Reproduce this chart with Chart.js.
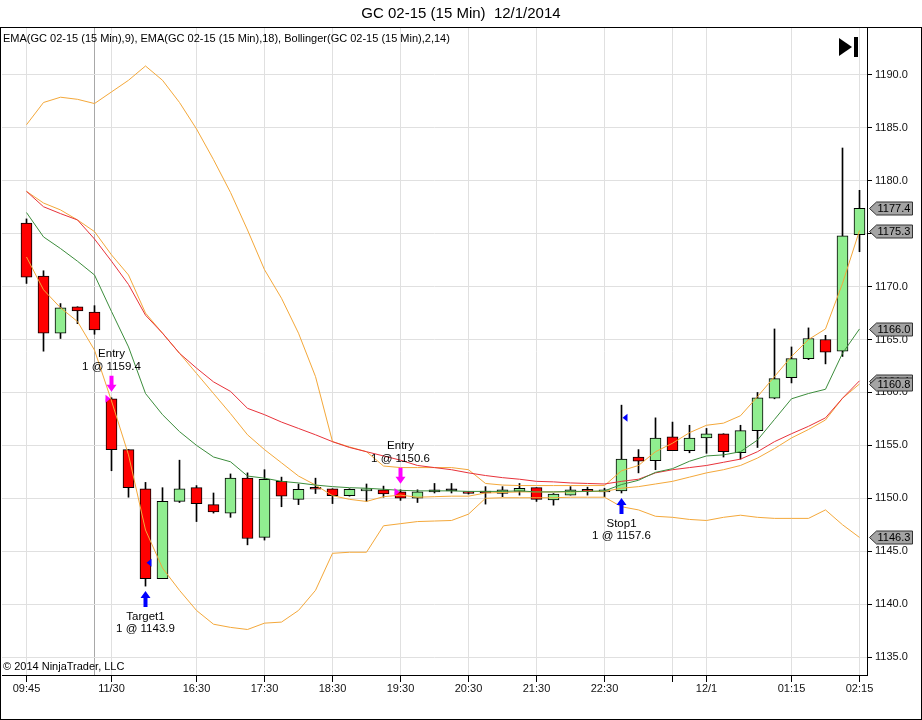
<!DOCTYPE html>
<html>
<head>
<meta charset="utf-8">
<title>GC 02-15 (15 Min) 12/1/2014</title>
<script src="https://cdn.jsdelivr.net/npm/chart.js@4.4.0/dist/chart.umd.min.js"></script>
<style>
html, body { margin: 0; padding: 0; background: #fff; overflow: hidden; }
canvas { display: block; }
</style>
</head>
<body>
<canvas id="gc-chart" width="922" height="720"></canvas>
<script>
// 15 min bars, Pacific time: Fri 11/28 short session, then Sun 11/30 evening into 12/1
const barTimes = [
    '09:45', '10:00', '10:15', '10:30', '10:45', '15:15', '15:30', '15:45', '16:00', '16:15',
    '16:30', '16:45', '17:00', '17:15', '17:30', '17:45', '18:00', '18:15', '18:30', '18:45',
    '19:00', '19:15', '19:30', '19:45', '20:00', '20:15', '20:30', '20:45', '21:00', '21:15',
    '21:30', '21:45', '22:00', '22:15', '22:30', '22:45', '23:00', '23:15', '23:30', '23:45',
    '00:00', '00:15', '00:30', '00:45', '01:00', '01:15', '01:30', '01:45', '02:00', '02:15'
]
const tickBars = [0, 4, 5, 10, 14, 18, 22, 26, 30, 34, 38, 40, 45, 49]
const tickText = ['09:45', '', '11/30', '16:30', '17:30', '18:30', '19:30', '20:30', '21:30', '22:30', '', '12/1', '01:15', '02:15']
const sessionBreakBar = 4
const priceTicks = [1135, 1140, 1145, 1150, 1155, 1160, 1165, 1170, 1175, 1180, 1185, 1190]

const opens = [
    1176.0, 1171.0, 1165.6, 1168.1, 1167.6, 1159.4, 1154.6, 1150.9, 1142.4, 1149.7,
    1151.0, 1149.4, 1148.6, 1151.9, 1146.3, 1151.6, 1149.9, 1151.0, 1150.9, 1150.25,
    1150.7, 1150.8, 1150.6, 1150.0, 1150.6, 1150.7, 1150.6, 1150.55, 1150.45, 1150.65,
    1151.0, 1149.85, 1150.3, 1150.8, 1150.6, 1150.7, 1153.9, 1153.55, 1155.8, 1154.5,
    1155.7, 1156.1, 1154.3, 1156.4, 1159.45, 1161.4, 1163.2, 1165.0, 1163.9, 1174.9
]
const highs = [
    1176.4, 1171.5, 1168.4, 1168.1, 1168.2, 1159.5, 1154.6, 1151.5, 1151.0, 1153.6,
    1151.2, 1150.5, 1152.3, 1152.4, 1152.7, 1152.0, 1151.35, 1151.9, 1150.9, 1150.9,
    1151.35, 1151.15, 1150.8, 1150.8, 1151.4, 1151.4, 1150.6, 1151.1, 1151.1, 1151.4,
    1151.0, 1150.45, 1151.1, 1151.05, 1150.95, 1158.8, 1154.6, 1157.6, 1157.2, 1156.9,
    1156.6, 1156.1, 1156.9, 1160.0, 1166.0, 1164.3, 1166.1, 1165.4, 1183.1, 1179.1
]
const lows = [
    1170.3, 1163.9, 1165.1, 1166.5, 1165.5, 1152.6, 1150.1, 1141.7, 1142.4, 1149.6,
    1147.8, 1148.6, 1148.2, 1145.6, 1146.05, 1149.2, 1149.4, 1150.45, 1149.5, 1150.2,
    1149.7, 1150.1, 1149.8, 1149.6, 1150.5, 1150.5, 1150.4, 1149.45, 1150.15, 1150.3,
    1149.7, 1149.35, 1150.3, 1150.3, 1150.15, 1150.5, 1152.4, 1152.7, 1154.5, 1154.3,
    1154.25, 1153.9, 1153.7, 1154.8, 1159.4, 1160.9, 1163.1, 1162.7, 1163.4, 1173.3
]
const closes = [
    1170.9, 1165.6, 1168.0, 1167.7, 1165.9, 1154.6, 1151.0, 1142.4, 1149.7, 1150.9,
    1149.5, 1148.7, 1151.9, 1146.2, 1151.8, 1150.2, 1150.85, 1150.85, 1150.25, 1150.85,
    1150.85, 1150.4, 1150.0, 1150.6, 1150.6, 1150.7, 1150.45, 1150.5, 1150.8, 1150.95,
    1149.9, 1150.4, 1150.8, 1150.65, 1150.75, 1153.7, 1153.5, 1155.7, 1154.5, 1155.7,
    1156.1, 1154.4, 1156.4, 1159.5, 1161.3, 1163.2, 1165.1, 1163.8, 1174.8, 1177.4
]

// indicator values
const ema9 = [
    1177.0, 1174.7, 1173.6, 1172.4, 1171.1, 1167.65, 1164.3, 1159.9, 1157.9, 1156.3,
    1155.0, 1153.9, 1153.45, 1152.1, 1151.9, 1151.6, 1151.45, 1151.25, 1151.1, 1151.0,
    1150.95, 1150.85, 1150.75, 1150.7, 1150.7, 1150.7, 1150.65, 1150.65, 1150.65, 1150.7,
    1150.6, 1150.6, 1150.65, 1150.65, 1150.7, 1151.3, 1151.7, 1152.45, 1152.8, 1153.5,
    1154.0, 1154.1, 1154.4, 1155.5, 1157.45, 1159.4, 1159.9, 1160.3, 1163.7, 1166.0
]
const ema18 = [
    1179.0, 1177.55, 1176.9, 1176.3, 1174.5, 1172.4, 1170.2, 1167.3, 1165.6, 1163.7,
    1162.3, 1161.0, 1160.1, 1158.5, 1157.9, 1157.2, 1156.6, 1156.0, 1155.35, 1154.8,
    1154.4, 1154.0, 1153.6, 1153.1, 1152.9, 1152.7, 1152.4, 1152.15, 1151.95, 1151.8,
    1151.6, 1151.55, 1151.45, 1151.4, 1151.35, 1151.6, 1151.8, 1152.4, 1152.7, 1152.9,
    1153.1, 1153.4, 1153.7, 1154.4, 1155.35, 1156.1, 1156.8, 1157.6, 1159.45, 1161.1
]
const bbUpper = [
    1185.3, 1187.4, 1187.9, 1187.7, 1187.3, 1188.4, 1189.5, 1190.85, 1189.5, 1187.4,
    1184.9, 1182.0, 1178.9, 1175.35, 1171.6, 1168.9, 1165.6, 1161.5, 1155.35, 1154.85,
    1154.4, 1153.05, 1152.9, 1152.9, 1152.9, 1152.9, 1152.7, 1151.4, 1151.25, 1151.2,
    1151.2, 1151.2, 1151.2, 1151.2, 1151.2, 1152.6, 1153.1, 1154.4, 1155.2, 1156.2,
    1156.9, 1157.1, 1157.8, 1159.6, 1161.5, 1163.4, 1165.0, 1166.0, 1170.3, 1175.3
]
const bbMiddle = [
    1179.0, 1177.9, 1177.25, 1176.3, 1175.2, 1173.0, 1171.1, 1167.5, 1165.6, 1163.7,
    1161.8, 1159.9, 1158.0, 1156.0, 1154.6, 1153.35, 1152.1, 1151.25, 1150.25, 1149.9,
    1149.7, 1150.15, 1150.3, 1150.1, 1150.15, 1150.2, 1150.2, 1150.5, 1150.55, 1150.6,
    1150.6, 1150.6, 1150.6, 1150.65, 1150.65, 1150.95, 1151.1, 1151.35, 1151.6, 1152.0,
    1152.4, 1152.7, 1153.1, 1153.8, 1154.7, 1155.7, 1156.5, 1157.4, 1159.45, 1160.8
]
const bbLower = [
    1172.8, 1169.7, 1168.0, 1166.7, 1164.0, 1159.2, 1154.1, 1147.0, 1143.4, 1141.3,
    1139.4, 1138.1, 1137.8, 1137.6, 1138.2, 1138.3, 1139.4, 1141.3, 1144.8, 1144.9,
    1144.9, 1147.4, 1147.6, 1147.8, 1147.85, 1147.9, 1148.5, 1150.0, 1150.05, 1150.05,
    1150.05, 1150.05, 1150.1, 1150.1, 1150.1, 1149.2, 1148.9, 1148.3, 1148.2, 1148.0,
    1147.9, 1148.2, 1148.4, 1148.2, 1148.1, 1148.1, 1148.1, 1148.9, 1147.5, 1146.3
]

// executions
const tradeBars = [5, 22, 7, 35]
const tradePrices = [1159.4, 1150.6, 1143.9, 1157.6]
const tradeNames = ['Entry', 'Entry', 'Target1', 'Stop1']
const tradeSides = ['sell', 'sell', 'buy', 'buy']

const fontFamily = '"Liberation Sans", Arial, sans-serif'
const upColor = '#90ee90'
const downColor = '#ff0000'
const emaFastColor = '#3c8d3c'
const emaSlowColor = '#e8323a'
const bandColor = '#f4a83a'

const ctx = document.getElementById('gc-chart').getContext('2d')

const toPoints = series => series.map((v, i) => ({ x: i, y: v }))
const candleColor = i => closes[i] > opens[i] ? upColor : (closes[i] < opens[i] ? downColor : '#000000')

const lineSet = (label, series, color) => ({
    type: 'line',
    label: label,
    data: toPoints(series),
    borderColor: color,
    borderWidth: 1,
    pointRadius: 0,
    tension: 0,
    fill: false,
    order: 1
})

function drawArrow(c, x, tipY, dir, color) {
    // dir 1 = pointing down, -1 = pointing up
    const head = 7, shaft = 9
    c.fillStyle = color
    c.beginPath()
    c.moveTo(x, tipY)
    c.lineTo(x - 5, tipY - dir * head)
    c.lineTo(x - 2, tipY - dir * head)
    c.lineTo(x - 2, tipY - dir * (head + shaft))
    c.lineTo(x + 2, tipY - dir * (head + shaft))
    c.lineTo(x + 2, tipY - dir * head)
    c.lineTo(x + 5, tipY - dir * head)
    c.closePath()
    c.fill()
}

const ninjaDecor = {
    id: 'ninjaDecor',
    beforeDraw(chart) {
        const c = chart.ctx
        c.save()
        c.fillStyle = '#ffffff'
        c.fillRect(0, 0, chart.width, chart.height)
        c.fillStyle = '#000'
        c.font = '15px ' + fontFamily
        c.textAlign = 'center'
        c.textBaseline = 'middle'
        c.fillText('GC 02-15 (15 Min)  12/1/2014', chart.width / 2, 14)
        c.restore()
    },
    afterDatasetsDraw(chart) {
        const c = chart.ctx
        const xs = chart.scales.x, ys = chart.scales.y
        c.save()
        c.fillStyle = '#000'
        c.font = '11px ' + fontFamily
        c.textAlign = 'left'
        c.textBaseline = 'middle'
        c.fillText('EMA(GC 02-15 (15 Min),9), EMA(GC 02-15 (15 Min),18), Bollinger(GC 02-15 (15 Min),2,14)', 3, 39)
        c.fillText('\u00a9 2014 NinjaTrader, LLC', 3, 667)

        // play-to-end button
        c.fillStyle = '#000'
        c.beginPath()
        c.moveTo(839, 38)
        c.lineTo(852, 47)
        c.lineTo(839, 56)
        c.closePath()
        c.fill()
        c.fillRect(854, 37, 4, 20)

        // executions
        c.font = '11.5px ' + fontFamily
        c.textAlign = 'center'
        tradeBars.forEach((bar, k) => {
            const x = xs.getPixelForValue(bar)
            const py = ys.getPixelForValue(tradePrices[k])
            if (tradeSides[k] === 'sell') {
                const tip = ys.getPixelForValue(highs[bar]) - 6
                drawArrow(c, x, tip, 1, '#ff00ff')
                c.fillStyle = '#000'
                c.fillText(tradeNames[k], x, tip - 38)
                c.fillText('1 @ ' + tradePrices[k].toFixed(1), x, tip - 25)
                c.fillStyle = '#ff00ff'
                c.beginPath()
                c.moveTo(x - 1, py)
                c.lineTo(x - 6, py - 4)
                c.lineTo(x - 6, py + 4)
                c.closePath()
                c.fill()
            } else {
                const tip = ys.getPixelForValue(lows[bar]) + 5
                drawArrow(c, x, tip, -1, '#0000ff')
                c.fillStyle = '#000'
                c.fillText(tradeNames[k], x, tip + 26)
                c.fillText('1 @ ' + tradePrices[k].toFixed(1), x, tip + 38)
                c.fillStyle = '#0000ff'
                c.beginPath()
                c.moveTo(x + 1, py)
                c.lineTo(x + 6, py - 4)
                c.lineTo(x + 6, py + 4)
                c.closePath()
                c.fill()
            }
        })
        c.restore()
    },
    afterDraw(chart) {
        const c = chart.ctx
        const ys = chart.scales.y
        const area = chart.chartArea
        c.save()
        c.strokeStyle = '#000'
        c.lineWidth = 1
        c.strokeRect(0.5, 27.5, 921, 692)

        // last-value markers on the price axis
        const last = a => a[a.length - 1]
        const markers = [last(ema18), last(bbMiddle), last(closes), last(bbUpper), last(ema9), last(bbLower)]
        c.font = '11px ' + fontFamily
        c.textAlign = 'left'
        c.textBaseline = 'middle'
        markers.forEach(v => {
            const y = Math.round(ys.getPixelForValue(v)) + 0.5
            const x0 = area.right + 2.5
            c.beginPath()
            c.moveTo(x0, y)
            c.lineTo(x0 + 7, y - 6.5)
            c.lineTo(x0 + 43, y - 6.5)
            c.lineTo(x0 + 43, y + 6.5)
            c.lineTo(x0 + 7, y + 6.5)
            c.closePath()
            c.fillStyle = '#a4a4a4'
            c.fill()
            c.strokeStyle = '#333'
            c.stroke()
            c.fillStyle = '#000'
            c.fillText(v.toFixed(1), x0 + 8, y + 0.5)
        })
        c.restore()
    }
}

const gcChart = new Chart(ctx, {
    type: 'bar',
    data: {
        datasets: [
            lineSet('EMA(9)', ema9, emaFastColor),
            lineSet('EMA(18)', ema18, emaSlowColor),
            lineSet('Bollinger upper', bbUpper, bandColor),
            lineSet('Bollinger middle', bbMiddle, bandColor),
            lineSet('Bollinger lower', bbLower, bandColor),
            {
                label: 'Bodies',
                data: opens.map((o, i) => ({ x: i, y: [o, closes[i]] })),
                backgroundColor: opens.map((o, i) => candleColor(i)),
                borderColor: '#000',
                borderWidth: 1,
                borderSkipped: false,
                barThickness: 11,
                minBarLength: 2,
                grouped: false,
                order: 2
            },
            {
                label: 'Wicks',
                data: lows.map((l, i) => ({ x: i, y: [l, highs[i]] })),
                backgroundColor: '#000',
                borderWidth: 0,
                barThickness: 1,
                grouped: false,
                order: 3
            }
        ]
    },
    options: {
        responsive: false,
        animation: false,
        devicePixelRatio: 1,
        layout: { padding: { left: 2, top: 28, right: 0, bottom: 0 } },
        scales: {
            x: {
                type: 'linear',
                offset: false,
                min: -1.4412,
                max: 49.4412,
                afterFit: axis => { axis.height = 45 },
                afterBuildTicks: axis => { axis.ticks = tickBars.map(v => ({ value: v })) },
                grid: {
                    offset: false,
                    color: c => c.tick && c.tick.value === sessionBreakBar ? '#a8a8a8' : '#e0e0e0',
                    tickColor: c => c.tick && c.tick.value === sessionBreakBar ? 'rgba(0,0,0,0)' : '#000',
                    tickLength: 7
                },
                border: { color: '#000', width: 1 },
                ticks: {
                    autoSkip: false,
                    maxRotation: 0,
                    padding: 0,
                    color: '#111',
                    font: { family: fontFamily, size: 11 },
                    callback: value => {
                        const k = tickBars.indexOf(value)
                        return k < 0 ? '' : tickText[k]
                    }
                }
            },
            y: {
                position: 'right',
                min: 1133.3,
                max: 1194.44,
                afterFit: axis => { axis.width = 55 },
                afterBuildTicks: axis => { axis.ticks = priceTicks.map(v => ({ value: v })) },
                grid: { color: '#e0e0e0', tickColor: '#000', tickLength: 5 },
                border: { color: '#000', width: 1 },
                ticks: {
                    padding: 3,
                    color: '#111',
                    font: { family: fontFamily, size: 11 },
                    callback: value => value.toFixed(1)
                }
            }
        },
        plugins: {
            legend: { display: false },
            title: { display: false },
            tooltip: { enabled: false }
        }
    },
    plugins: [ninjaDecor]
})
</script>
</body>
</html>
